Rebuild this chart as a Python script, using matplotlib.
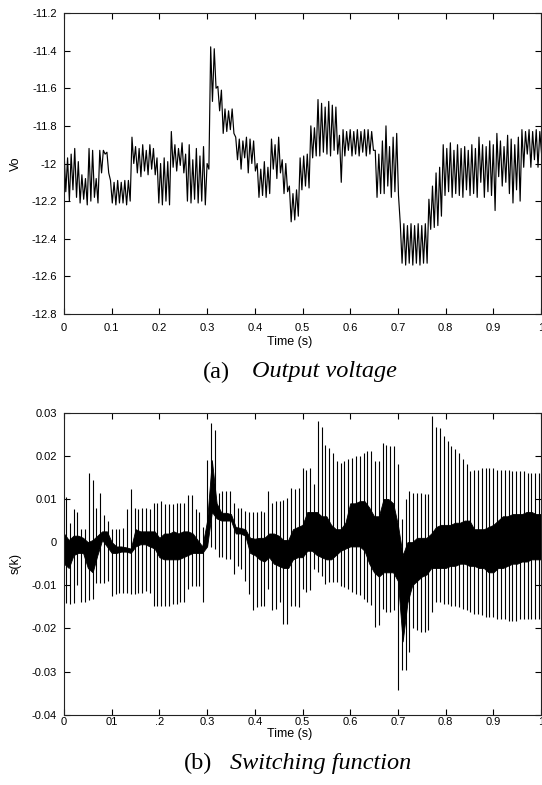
import numpy as np
import matplotlib
matplotlib.use("Agg")
import matplotlib.pyplot as plt

plt.rcParams["font.family"] = ["Liberation Sans", "DejaVu Sans"]

# (a) output voltage: upper / lower level of each ripple cycle (V)
vo_dt = 0.0075
vo_hi = [
    -11.93, -11.97, -11.95, -11.92, -11.99, -12.06, -12.08, -11.92, -11.93, -12.08,
    -11.93, -11.93, -11.94, -12.09, -12.10, -12.09, -12.10, -12.09, -12.09, -11.86,
    -11.91, -11.92, -11.90, -11.93, -11.90, -11.92, -11.97, -12.00, -11.97, -11.99,
    -11.83, -11.90, -11.92, -11.89, -11.95, -11.90, -11.98, -11.92, -11.96, -11.91,
    -12.00, -11.38, -11.39, -11.59, -11.61, -11.71, -11.72, -11.71, -11.86, -11.87,
    -11.88, -11.86, -11.87, -11.88, -12.00, -12.03, -11.99, -12.02, -11.87, -11.90,
    -11.86, -11.98, -12.00, -12.12, -12.16, -12.14, -11.97, -11.96, -11.95, -11.80,
    -11.81, -11.66, -11.68, -11.70, -11.67, -11.69, -11.70, -11.85, -11.82, -11.83,
    -11.82, -11.83, -11.82, -11.83, -11.82, -11.82, -11.83, -11.93, -11.95, -11.88,
    -11.80, -11.91, -11.86, -11.84, -12.32, -12.32, -12.33, -12.32, -12.33, -12.32,
    -12.33, -12.32, -12.19, -12.12, -12.05, -12.02, -11.90, -11.92, -11.89, -11.93,
    -11.90, -11.92, -11.91, -11.93, -11.90, -11.92, -11.86, -11.90, -11.91, -11.88,
    -11.90, -11.84, -11.88, -11.91, -11.85, -11.87, -11.90, -11.86, -11.82, -11.83,
    -11.82, -11.83, -11.82, -11.83,
]
vo_lo = [
    -12.15, -12.20, -12.14, -12.18, -12.21, -12.19, -12.22, -12.20, -12.18, -12.21,
    -12.05, -11.95, -12.05, -12.21, -12.22, -12.21, -12.21, -12.22, -12.20, -12.00,
    -12.05, -12.07, -12.04, -12.06, -12.03, -12.06, -12.21, -12.22, -12.20, -12.22,
    -12.02, -12.04, -12.01, -12.05, -12.20, -12.21, -12.19, -12.21, -12.20, -12.22,
    -12.03, -11.67, -11.60, -11.72, -11.84, -11.83, -11.82, -11.84, -11.98, -12.03,
    -11.97, -12.05, -12.00, -12.04, -12.18, -12.17, -12.18, -12.16, -12.03, -12.08,
    -12.05, -12.16, -12.15, -12.31, -12.30, -12.28, -12.14, -12.12, -12.13, -11.97,
    -11.96, -11.96, -11.94, -11.95, -11.96, -11.93, -11.95, -12.10, -11.96, -11.93,
    -11.96, -11.95, -11.96, -11.94, -11.96, -11.95, -11.93, -12.18, -12.16, -12.16,
    -12.12, -12.18, -12.15, -12.17, -12.53, -12.54, -12.53, -12.54, -12.53, -12.54,
    -12.53, -12.53, -12.35, -12.34, -12.33, -12.28, -12.17, -12.15, -12.18, -12.16,
    -12.17, -12.18, -12.14, -12.17, -12.16, -12.18, -12.10, -12.18, -12.15, -12.17,
    -12.25, -12.07, -12.12, -12.10, -12.16, -12.21, -12.14, -12.20, -12.02, -11.95,
    -12.02, -11.98, -12.02, -11.95,
]

# (b) switching function, in units of 1e-3
# dense core band, sampled every 0.01 s
core_upper = [
    2.0, 0.5, 1.5, 1.5, 1.0, 0.0, 0.5, 1.5, 2.5, 2.5,
    0.0, -1.0, -1.0, -1.2, -1.5, 3.0, 2.5, 2.5, 2.5, 2.5,
    1.0, 2.0, 2.0, 2.5, 2.0, 2.5, 2.5, 2.0, 0.5, -1.0,
    5.0, 19.0, 9.0, 6.8, 6.8, 6.5, 3.5, 3.3, 3.0, 1.0,
    0.8, 1.0, 1.0, 2.0, 2.0, 1.5, 0.5, 0.5, 3.0, 3.5,
    4.0, 7.0, 7.0, 7.0, 6.0, 6.0, 4.0, 3.0, 3.0, 4.5,
    9.0, 9.0, 9.5, 9.5, 8.0, 6.0, 6.0, 10.0, 10.0, 9.0,
    4.0, -3.0, 0.0, 0.0, 1.0, 1.0, 1.0, 2.0, 3.5, 4.0,
    4.0, 4.0, 4.5, 4.5, 5.0, 5.0, 3.0, 3.0, 3.0, 3.5,
    4.0, 5.0, 6.0, 6.0, 6.5, 6.5, 6.5, 7.0, 7.0, 6.5,
    6.5,
]
core_lower = [
    -5.0, -6.0, -3.0, -2.5, -2.5, -6.0, -7.0, -3.0, 0.5, -1.0,
    -2.5, -2.5, -2.2, -2.2, -2.5, -1.0, -0.5, -0.5, -1.0, -1.5,
    -3.5, -4.0, -4.0, -4.0, -4.0, -3.5, -3.0, -2.5, -2.5, -2.5,
    -1.0, 7.0, 5.5, 5.0, 5.0, 5.0, 2.0, 2.0, 1.5, -2.5,
    -3.0, -4.0, -4.5, -3.5, -5.0, -5.5, -6.0, -6.0, -4.0, -3.5,
    -3.5, -2.0, -2.0, -3.0, -3.5, -4.0, -4.0, -3.0, -2.0, -1.5,
    -1.0, -1.0, -1.0, -2.0, -5.0, -7.0, -8.0, -7.0, -7.0, -7.0,
    -9.0, -23.0, -14.0, -10.0, -9.0, -8.0, -7.5, -6.0, -6.0, -6.0,
    -6.0, -5.5, -5.5, -5.0, -5.0, -5.5, -5.5, -6.0, -6.0, -7.0,
    -7.0, -6.0, -6.0, -5.5, -5.0, -5.0, -4.5, -4.5, -4.0, -4.0,
    -4.0,
]
# switching spikes, one every 0.008 s starting at 0.004 s
spike_hi = [
    10.5, 4.5, 7.6, 7.0, 3.0, 3.0, 16.0, 14.5, 8.0, 11.5,
    6.2, 4.8, 3.0, 3.0, 3.0, 3.2, 7.6, 12.2, 8.0, 7.6,
    8.0, 8.0, 7.6, 9.1, 9.1, 9.5, 8.8, 8.8, 8.8, 9.1,
    9.1, 9.1, 11.0, 11.0, 7.6, 6.9, 3.4, 19.0, 27.6, 26.0,
    11.5, 11.9, 11.9, 11.9, 9.0, 8.0, 8.0, 7.3, 7.0, 6.9,
    6.9, 7.3, 6.9, 11.9, 9.1, 9.5, 9.5, 9.8, 10.3, 12.6,
    12.3, 12.6, 17.2, 16.8, 17.2, 13.4, 28.0, 26.8, 22.6, 21.8,
    20.7, 18.8, 18.4, 18.8, 19.2, 19.5, 19.9, 19.9, 20.7, 21.1,
    21.1, 18.8, 18.8, 23.0, 22.6, 22.3, 22.3, 18.0, 5.3, 10.0,
    11.8, 11.5, 11.5, 11.5, 11.1, 11.1, 29.2, 26.8, 26.5, 24.5,
    23.4, 22.3, 21.5, 20.7, 19.2, 18.0, 16.5, 16.8, 16.8, 17.2,
    17.2, 17.2, 17.2, 16.8, 16.8, 16.8, 16.8, 16.5, 16.5, 16.5,
    16.5, 16.1, 16.1, 16.1, 16.1,
]
spike_lo = [
    -14.0, -14.3, -14.0, -10.0, -13.9, -13.9, -13.5, -13.2, -9.4, -9.4,
    -9.4, -9.0, -12.4, -12.0, -11.7, -11.7, -11.7, -12.0, -12.0, -11.7,
    -11.7, -11.3, -11.7, -14.7, -14.7, -14.7, -14.7, -14.7, -14.3, -14.3,
    -13.9, -13.9, -10.8, -10.1, -10.1, -10.1, -13.9, -0.8, -1.2, -1.6,
    -3.5, -3.5, -3.9, -4.0, -7.4, -5.5, -6.3, -8.9, -12.0, -15.8,
    -15.1, -14.7, -14.7, -10.8, -15.8, -15.5, -13.9, -18.9, -18.9, -14.7,
    -14.7, -15.1, -10.8, -11.5, -11.2, -6.3, -7.0, -7.8, -9.7, -9.3,
    -9.3, -9.3, -10.1, -10.4, -10.8, -11.5, -12.0, -12.3, -13.1, -13.9,
    -14.5, -19.7, -19.3, -15.5, -16.2, -16.2, -15.8, -34.3, -29.7, -29.7,
    -25.5, -20.0, -20.4, -20.8, -20.8, -20.4, -16.2, -13.9, -13.9, -14.3,
    -14.3, -14.7, -14.7, -15.1, -15.5, -15.8, -16.2, -16.6, -16.6, -17.0,
    -17.4, -17.4, -17.4, -17.8, -17.8, -17.8, -18.2, -18.2, -18.2, -17.8,
    -17.8, -17.8, -17.8, -17.8, -17.8,
]

top_xticks = [0, 0.1, 0.2, 0.3, 0.4, 0.5, 0.6, 0.7, 0.8, 0.9, 1]
top_xlabels = ["0", "0.1", "0.2", "0.3", "0.4", "0.5", "0.6", "0.7", "0.8", "0.9", "1"]
bot_xlabels = ["0", "01", ".2", "0.3", "0.4", "0.5", "0.6", "0.7", "0.8", "0.9", "1"]
top_yticks = [-11.2, -11.4, -11.6, -11.8, -12, -12.2, -12.4, -12.6, -12.8]
top_ylabels = ["-11.2", "-11.4", "-11.6", "-11.8", "-12", "-12.2", "-12.4", "-12.6", "-12.8"]
bot_yticks = [0.03, 0.02, 0.01, 0, -0.01, -0.02, -0.03, -0.04]
bot_ylabels = ["0.03", "0.02", "0.01", "0", "-0.01", "-0.02", "-0.03", "-0.04"]

# sample times
n = len(vo_hi)
t_hi = np.arange(n) * vo_dt
t_lo = t_hi + vo_dt / 2
t_vo = np.empty(2 * n)
t_vo[0::2] = t_hi
t_vo[1::2] = t_lo
v_vo = np.empty(2 * n)
v_vo[0::2] = vo_hi
v_vo[1::2] = vo_lo

t_core = np.linspace(0, 1, len(core_upper))
t_spike = 0.004 + 0.008 * np.arange(len(spike_hi))
core_upper = np.array(core_upper) * 1e-3
core_lower = np.array(core_lower) * 1e-3
spike_hi = np.array(spike_hi) * 1e-3
spike_lo = np.array(spike_lo) * 1e-3

W, H = 542, 785
fig = plt.figure(figsize=(W / 100, H / 100), dpi=100)
ax1 = fig.add_axes([64 / W, 1 - 314 / H, 477 / W, 301 / H])
ax2 = fig.add_axes([64 / W, 1 - 714.7 / H, 477 / W, 302 / H])

ax1.plot(t_vo, v_vo, color="black", lw=0.85)
ax2.fill_between(t_core, core_lower, core_upper, color="black", lw=0.6)
ax2.vlines(t_spike, spike_lo, spike_hi, color="black", lw=0.8)


def style(ax, xlabels, yticks, ylabels, ylim, xpad):
    ax.set_xlim(0, 1)
    ax.set_ylim(*ylim)
    ax.set_xticks(top_xticks)
    ax.set_xticklabels(xlabels)
    ax.set_yticks(yticks)
    ax.set_yticklabels(ylabels)
    ax.tick_params(direction="in", length=4, width=0.8, top=True, right=True,
                   labelsize=8, colors="black")
    ax.tick_params(axis="x", pad=xpad)
    ax.tick_params(axis="y", pad=5)
    for s in ax.spines.values():
        s.set_linewidth(0.8)
        s.set_color("#222222")


style(ax1, top_xlabels, top_yticks, top_ylabels, (-12.8, -11.2), 6.5)
style(ax2, bot_xlabels, bot_yticks, bot_ylabels, (-0.04, 0.03), 1.5)

ax1.set_xlabel("Time (s)", fontsize=9)
ax1.xaxis.set_label_coords((290 - 64) / 477, (314 - 336) / 301)
ax1.set_ylabel("Vo", fontsize=9, va="center")
ax1.yaxis.set_label_coords((16 - 64) / 477, 0.5)

ax2.set_xlabel("Time (s)", fontsize=9)
ax2.xaxis.set_label_coords((290 - 64) / 477, (714.7 - 728) / 302)
ax2.set_ylabel("s(k)", fontsize=9, va="center")
ax2.yaxis.set_label_coords((16 - 64) / 477, 0.5)

serif = ["Liberation Serif", "DejaVu Serif"]
fig.text(203 / W, 1 - 372 / H, "(a)", family=serif, fontsize=17.5, va="center")
fig.text(252 / W, 1 - 372 / H, "Output voltage", family=serif, fontsize=17.5,
         style="italic", va="center")
fig.text(184 / W, 1 - 763 / H, "(b)", family=serif, fontsize=17.5, va="center")
fig.text(230 / W, 1 - 763 / H, "Switching function", family=serif, fontsize=17.5,
         style="italic", va="center")

fig.savefig("out.png", dpi=100)
